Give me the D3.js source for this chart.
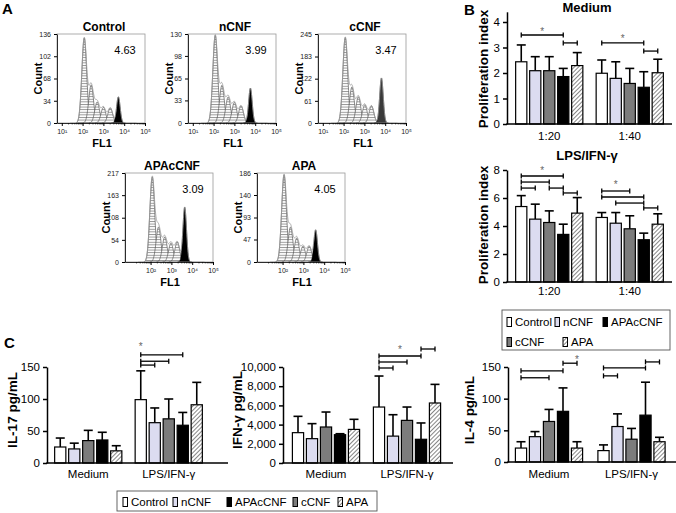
<!DOCTYPE html>
<html><head><meta charset="utf-8">
<script src="https://cdn.jsdelivr.net/npm/d3@7"></script>
<style>
body{margin:0;background:#fff}
svg{display:block}
text{font-family:"Liberation Sans",Arial,Helvetica,sans-serif}
</style>
</head><body>
<svg id="c" width="676" height="513"></svg>
<script>
// ---------------- DATA ----------------
// Panel A: flow cytometry proliferation histograms
const histNames = ["Control", "nCNF", "cCNF", "APAcCNF", "APA"];
const histPercent = ["4.63", "3.99", "3.47", "3.09", "4.05"];
const histYTicks = [
  [0, 34, 68, 102, 136],
  [0, 33, 65, 98, 130],
  [0, 61, 122, 183, 245],
  [0, 54, 108, 163, 217],
  [0, 47, 93, 140, 186]
];
const histXTickExpTop = [1, 2, 3, 4, 5];
const histXTickExpBottom = [2, 3, 4, 5];
// daughter-generation peaks (log10 FL1 centre, count height)
const histGenCenters = [
  [2.08, 2.41, 2.70, 3.00, 3.33],
  [2.08, 2.40, 2.70, 3.00, 3.32],
  [2.08, 2.40, 2.71, 3.02, 3.34],
  [2.08, 2.38, 2.68, 2.98, 3.28],
  [2.07, 2.38, 2.68, 2.98, 3.28]
];
const histGenHeights = [
  [130, 58, 32, 24, 23],
  [128, 55, 38, 30, 25],
  [235, 99, 72, 50, 47],
  [207, 85, 61, 46, 49],
  [182, 73, 50, 33, 33]
];
const histParentCenter = [3.72, 3.77, 3.82, 3.64, 3.59];
const histParentHeight = [40, 51, 124, 134, 67];

// Bar series (bar order) and legend order
const barSeries = ["Control", "nCNF", "cCNF", "APAcCNF", "APA"];
const legendOrder = ["Control", "nCNF", "APAcCNF", "cCNF", "APA"];

// Panel B: proliferation index
const ratioGroups = ["1:20", "1:40"];
const profTicksMedium = [0, 1, 2, 3, 4];
const profTicksLPS = [0, 2, 4, 6, 8];
const profMedium = [[2.44, 2.09, 2.09, 1.86, 2.29], [1.99, 1.79, 1.59, 1.44, 2.01]];
const profMediumSD = [[0.66, 0.55, 0.55, 0.32, 0.51], [0.52, 0.65, 0.59, 0.61, 0.53]];
const profLPS = [[5.39, 4.49, 4.25, 3.40, 4.92], [4.61, 4.20, 3.80, 3.02, 4.13]];
const profLPSSD = [[0.78, 1.07, 0.83, 0.73, 1.11], [0.35, 0.76, 0.93, 0.47, 0.74]];
// significance brackets: [group, fromBar, toBar, level]
const bracketsMedium = [[0, 0, 3, 3.49], [0, 3, 4, 3.18], [1, 0, 3, 3.18], [1, 3, 4, 2.86]];
const starsMedium = [[0, 0, 3, 3.49], [1, 0, 3, 3.22]];
const bracketsLPS = [[0, 0, 3, 7.57], [0, 0, 2, 7.14], [0, 0, 1, 6.71], [0, 2, 3, 6.71], [0, 3, 4, 6.36],
                     [1, 0, 2, 6.5], [1, 0, 3, 6.07], [1, 1, 3, 5.64], [1, 3, 4, 5.29]];
const starsLPS = [[0, 0, 3, 7.75], [1, 0, 2, 6.68]];

// Panel C: cytokines
const stimGroups = ["Medium", "LPS/IFN-\u03b3"];
const il17Ticks = [0, 50, 100, 150];
const il17 = [[25, 22, 35, 36, 19], [99, 63, 69, 59, 91]];
const il17SD = [[14, 9, 16, 12, 8], [45, 23, 31, 20, 35]];
const il17Brackets = [[1, 0, 3, 169], [1, 0, 2, 159], [1, 0, 1, 153]];
const il17Stars = [[1, 0, 0, 176]];
const ifnTicks = [0, 2000, 4000, 6000, 8000, 10000];
const ifn = [[3160, 2535, 3750, 2950, 3500], [5830, 2800, 4440, 2470, 6250]];
const ifnSD = [[1700, 1565, 1560, 100, 1050], [3230, 2230, 1390, 1700, 1940]];
const ifnBrackets = [[1, 3, 4, 11875], [1, 0, 3, 11146], [1, 0, 2, 10521], [1, 0, 1, 9896]];
const ifnStars = [[1, 0, 3, 11410]];
const il4Ticks = [0, 50, 100, 150];
const il4 = [[22, 40, 64, 80, 22], [18, 56, 36, 74, 32]];
const il4SD = [[10, 8, 19, 37, 10], [9, 20, 17, 52, 7]];
const il4Brackets = [[0, 0, 3, 144], [0, 0, 2, 133], [0, 3, 4, 156], [1, 0, 3, 148.5], [1, 0, 1, 136], [1, 3, 4, 158]];
const il4Stars = [[0, 4, 4, 157]];

// ---------------- DRAWING ----------------
const svg = d3.select("#c");
const defs = svg.append("defs");
// diagonal hatch for APA
const ph = defs.append("pattern").attr("id", "hatch").attr("patternUnits", "userSpaceOnUse")
  .attr("width", 3).attr("height", 3).attr("patternTransform", "rotate(45)");
ph.append("rect").attr("width", 3).attr("height", 3).attr("fill", "#fff");
ph.append("line").attr("x1", 0).attr("y1", 0).attr("x2", 0).attr("y2", 3).attr("stroke", "#444").attr("stroke-width", 1.3);
// horizontal hatch for histogram peaks
const hh = defs.append("pattern").attr("id", "hhatch").attr("patternUnits", "userSpaceOnUse")
  .attr("width", 4).attr("height", 2.6);
hh.append("rect").attr("width", 4).attr("height", 2.6).attr("fill", "#fff");
hh.append("line").attr("x1", 0).attr("y1", 0.5).attr("x2", 4).attr("y2", 0.5).attr("stroke", "#777").attr("stroke-width", 0.8);

const fills = {Control: "#ffffff", nCNF: "#dcdcf0", cCNF: "#7c7c7c", APAcCNF: "#000000", APA: "url(#hatch)"};
const color = d3.scaleOrdinal().domain(barSeries).range(barSeries.map(s => fills[s]));

function panelLetter(t, x, y) {
  svg.append("text").attr("x", x).attr("y", y).attr("font-size", 15).attr("font-weight", "bold").text(t);
}
panelLetter("A", 2, 14);
panelLetter("B", 464, 15);
panelLetter("C", 4, 348);

// ---- Panel A histograms ----
const sup = {1: "\u00b9", 2: "\u00b2", 3: "\u00b3", 4: "\u2074", 5: "\u2075"};
const histBoxes = [{x: 57, y: 34}, {x: 188, y: 34}, {x: 318, y: 34}, {x: 125, y: 173}, {x: 257, y: 173}];
const HW = 88, HH = 89;
function gauss(l, c, h, s) { return h * Math.exp(-0.5 * ((l - c) / s) ** 2); }
const logSamples = d3.range(1.4, 4.6, 0.01);

histNames.forEach((name, i) => {
  const b = histBoxes[i];
  const g = svg.append("g");
  const x = d3.scaleLog().domain([Math.pow(10, 0.77), 1e5]).range([b.x, b.x + HW]);
  const ymax = histYTicks[i][histYTicks[i].length - 1];
  const y = d3.scaleLinear().domain([0, ymax]).range([b.y + HH, b.y]);
  const clipId = "clip" + i;
  defs.append("clipPath").attr("id", clipId).append("rect").attr("x", b.x).attr("y", b.y).attr("width", HW).attr("height", HH);
  const area = d3.area().x(d => x(Math.pow(10, d[0]))).y0(y(0)).y1(d => y(d[1]));
  const line = d3.line().x(d => x(Math.pow(10, d[0]))).y(d => y(d[1]));
  const pg = g.append("g").attr("clip-path", `url(#${clipId})`);
  const sig = 0.115;
  histGenCenters[i].forEach((c, k) => {
    const h = histGenHeights[i][k];
    const pts = logSamples.filter(l => Math.abs(l - c) < 0.4).map(l => [l, gauss(l, c, h, sig)]);
    pg.append("path").attr("d", area(pts)).attr("fill", "url(#hhatch)").attr("stroke", "#555").attr("stroke-width", 0.7);
  });
  const pc = histParentCenter[i], phh = histParentHeight[i];
  const ppts = logSamples.filter(l => Math.abs(l - pc) < 0.35).map(l => [l, gauss(l, pc, phh, 0.085)]);
  pg.append("path").attr("d", area(ppts)).attr("fill", i === 2 ? "#3a3a3a" : "#000").attr("stroke", "#000").attr("stroke-width", 0.5);
  const env = logSamples.map(l => [l, histGenCenters[i].reduce((s, c, k) => s + gauss(l, c, histGenHeights[i][k], sig), 0) + gauss(l, pc, phh, 0.085)]);
  pg.append("path").attr("d", line(env)).attr("fill", "none").attr("stroke", "#999").attr("stroke-width", 0.8);
  // frame
  g.append("rect").attr("x", b.x).attr("y", b.y).attr("width", HW).attr("height", HH).attr("fill", "none").attr("stroke", "#999").attr("stroke-width", 0.8);
  // axes
  const ya = g.append("g").attr("transform", `translate(${b.x},0)`)
    .call(d3.axisLeft(y).tickValues(histYTicks[i]).tickSize(3).tickSizeOuter(0));
  ya.selectAll("text").attr("font-size", 7).attr("font-family", "Liberation Sans, Arial, sans-serif").attr("fill", "#222");
  ya.select(".domain").attr("stroke-width", 0.8);
  const exps = i < 3 ? histXTickExpTop : histXTickExpBottom;
  const xa = g.append("g").attr("transform", `translate(0,${b.y + HH})`)
    .call(d3.axisBottom(x).tickValues(exps.map(e => Math.pow(10, e))).tickSize(3).tickSizeOuter(0)
      .tickFormat(v => "10" + sup[Math.round(Math.log10(v))]));
  xa.selectAll("text").attr("font-size", 7).attr("font-family", "Liberation Sans, Arial, sans-serif").attr("fill", "#222");
  xa.select(".domain").attr("stroke-width", 0.8);
  // minor log ticks
  const minor = [];
  for (let e = 1; e < 5; e++) for (let m = 2; m <= 9; m++) { const v = m * Math.pow(10, e); if (v > x.domain()[0]) minor.push(v); }
  g.append("g").attr("transform", `translate(0,${b.y + HH})`)
    .call(d3.axisBottom(x).tickValues(minor).tickSize(1.5).tickFormat(""))
    .call(s => s.select(".domain").remove())
    .selectAll("line").attr("stroke-width", 0.6);
  // labels
  g.append("text").attr("x", b.x + 47).attr("y", b.y - 3).attr("text-anchor", "middle").attr("font-size", 12).attr("font-weight", "bold").text(name);
  g.append("text").attr("x", b.x + 68).attr("y", b.y + 20).attr("text-anchor", "middle").attr("font-size", 11).text(histPercent[i]);
  g.append("text").attr("transform", `translate(${b.x - 15},${b.y + HH / 2}) rotate(-90)`).attr("text-anchor", "middle").attr("font-size", 11).attr("font-weight", "bold").text("Count");
  g.append("text").attr("x", b.x + 45).attr("y", b.y + HH + 24).attr("text-anchor", "middle").attr("font-size", 11).attr("font-weight", "bold").text("FL1");
});

// ---- Bar chart helper ----
function barChart(cfg) {
  const g = svg.append("g");
  const y = d3.scaleLinear().domain(cfg.yDomain).range(cfg.yRange);
  const x0 = d3.scaleBand().domain(cfg.groups).range(cfg.xRange);
  const x1 = d3.scaleBand().domain(barSeries).range([0, 70]).paddingInner(0.2).paddingOuter(0.1);
  const gx = gr => x0(gr) + x0.bandwidth() / 2 - 35;
  const cx = (gi, si) => gx(cfg.groups[gi]) + x1(barSeries[si]) + x1.bandwidth() / 2;
  // error bars
  cfg.means.forEach((row, gi) => row.forEach((v, si) => {
    const xc = cx(gi, si), top = y(v + cfg.sds[gi][si]);
    g.append("line").attr("x1", xc).attr("x2", xc).attr("y1", y(v)).attr("y2", top).attr("stroke", "#000").attr("stroke-width", 1.6);
    g.append("line").attr("x1", xc - 4.5).attr("x2", xc + 4.5).attr("y1", top).attr("y2", top).attr("stroke", "#000").attr("stroke-width", 1.6);
  }));
  // bars
  cfg.means.forEach((row, gi) => row.forEach((v, si) => {
    g.append("rect").attr("x", gx(cfg.groups[gi]) + x1(barSeries[si])).attr("y", y(v))
      .attr("width", x1.bandwidth()).attr("height", y(0) - y(v))
      .attr("fill", color(barSeries[si])).attr("stroke", "#000").attr("stroke-width", 1.2);
  }));
  // axes
  const ya = g.append("g").attr("transform", `translate(${cfg.axisX},0)`)
    .call(d3.axisLeft(y).tickValues(cfg.ticks).tickSize(4).tickSizeOuter(0).tickFormat(cfg.fmt || d3.format("d")));
  ya.select(".domain").attr("stroke-width", 1.5);
  ya.selectAll(".tick line").attr("stroke-width", 1.5);
  ya.selectAll("text").attr("font-size", 11.5).attr("font-family", "Liberation Sans, Arial, sans-serif").attr("fill", "#000");
  g.append("line").attr("x1", cfg.axisX - 0.75).attr("x2", cfg.axisEnd).attr("y1", y(0)).attr("y2", y(0)).attr("stroke", "#000").attr("stroke-width", 1.5);
  cfg.groups.forEach(gr => {
    g.append("text").attr("x", x0(gr) + x0.bandwidth() / 2).attr("y", y(0) + cfg.catDy).attr("text-anchor", "middle").attr("font-size", 11.5).text(gr);
  });
  // brackets
  (cfg.brackets || []).forEach(([gi, a, b2, lv]) => {
    const xa = cx(gi, a), xb = cx(gi, b2), yy = y(lv);
    g.append("line").attr("x1", xa).attr("x2", xb).attr("y1", yy).attr("y2", yy).attr("stroke", "#000").attr("stroke-width", 1.3);
    [xa, xb].forEach(xx => g.append("line").attr("x1", xx).attr("x2", xx).attr("y1", yy - 2.5).attr("y2", yy + 2.5).attr("stroke", "#000").attr("stroke-width", 1.3));
  });
  (cfg.stars || []).forEach(([gi, a, b2, lv]) => {
    g.append("text").attr("x", (cx(gi, a) + cx(gi, b2)) / 2).attr("y", y(lv)).attr("text-anchor", "middle")
      .attr("font-size", 10).attr("fill", "#666").text("*");
  });
  // labels
  g.append("text").attr("transform", `translate(${cfg.labelX},${cfg.labelY}) rotate(-90)`).attr("text-anchor", "middle")
    .attr("font-size", 13.5).attr("font-weight", "bold").text(cfg.yLabel);
  if (cfg.title) g.append("text").attr("x", cfg.titleX).attr("y", cfg.titleY).attr("text-anchor", "middle")
    .attr("font-size", 13).attr("font-weight", "bold").text(cfg.title);
}

// Panel B
barChart({groups: ratioGroups, xRange: [509, 670], axisX: 507, axisEnd: 672, yDomain: [0, 4.4], yRange: [124, 11.8],
  ticks: profTicksMedium, means: profMedium, sds: profMediumSD, brackets: bracketsMedium, stars: starsMedium,
  catDy: 16, yLabel: "Proliferation index", labelX: 488, labelY: 69, title: "Medium", titleX: 587, titleY: 12});
barChart({groups: ratioGroups, xRange: [509, 670], axisX: 507, axisEnd: 672, yDomain: [0, 8], yRange: [282, 170],
  ticks: profTicksLPS, means: profLPS, sds: profLPSSD, brackets: bracketsLPS, stars: starsLPS,
  catDy: 13, yLabel: "Proliferation index", labelX: 488, labelY: 225, title: "LPS/IFN-\u03b3", titleX: 587, titleY: 160});

// Panel C
barChart({groups: stimGroups, xRange: [48, 209], axisX: 47, axisEnd: 228, yDomain: [0, 150], yRange: [463, 367],
  ticks: il17Ticks, means: il17, sds: il17SD, brackets: il17Brackets, stars: il17Stars,
  catDy: 15, yLabel: "IL-17 pg/mL", labelX: 17, labelY: 410});
barChart({groups: stimGroups, xRange: [285.5, 447.5], axisX: 283, axisEnd: 453, yDomain: [0, 10000], yRange: [463, 367],
  ticks: ifnTicks, means: ifn, sds: ifnSD, brackets: ifnBrackets, stars: ifnStars, fmt: d3.format(","),
  catDy: 15, yLabel: "IFN-\u03b3 pg/mL", labelX: 242, labelY: 410});
barChart({groups: stimGroups, xRange: [507.75, 672.75], axisX: 508, axisEnd: 676, yDomain: [0, 150], yRange: [462, 367],
  ticks: il4Ticks, means: il4, sds: il4SD, brackets: il4Brackets, stars: il4Stars,
  catDy: 16, yLabel: "IL-4 pg/mL", labelX: 474, labelY: 410});

// Legends
function legend(box, items) {
  const g = svg.append("g");
  g.append("rect").attr("x", box.x).attr("y", box.y).attr("width", box.w).attr("height", box.h)
    .attr("fill", "#fff").attr("stroke", "#555").attr("stroke-width", 0.9);
  items.forEach(it => {
    g.append("rect").attr("x", it.x).attr("y", it.y - 8.5).attr("width", 4.5).attr("height", 9)
      .attr("fill", color(it.name)).attr("stroke", "#000").attr("stroke-width", 1);
    g.append("text").attr("x", it.x + 8).attr("y", it.y).attr("font-size", 11.5).text(it.name);
  });
}
const legBPos = {Control: [507, 326], nCNF: [555, 326], APAcCNF: [603, 326], cCNF: [507, 346], APA: [563, 346]};
legend({x: 502, y: 310, w: 168, h: 40}, legendOrder.map(n => ({name: n, x: legBPos[n][0], y: legBPos[n][1]})));
const legCPos = {Control: [123, 506], nCNF: [173, 506], APAcCNF: [227, 506], cCNF: [293, 506], APA: [338, 506]};
legend({x: 117, y: 491, w: 260, h: 20}, legendOrder.map(n => ({name: n, x: legCPos[n][0], y: legCPos[n][1]})));
</script>
</body></html>
